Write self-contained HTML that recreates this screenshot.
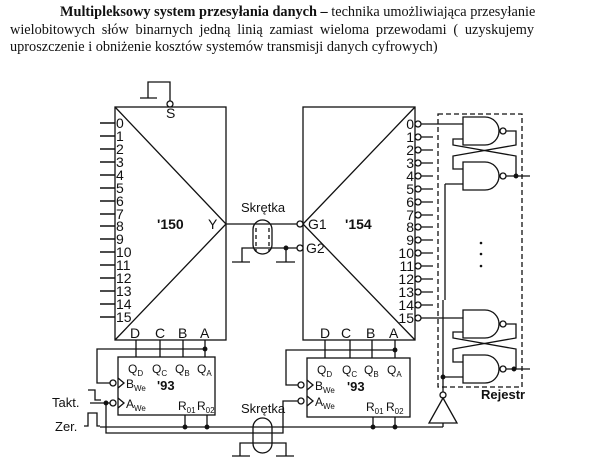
<!DOCTYPE html>
<html><head><meta charset="utf-8"><style>
html,body{margin:0;padding:0;background:#fff;width:608px;height:471px;overflow:hidden}
.t{position:absolute;left:10px;width:524px;font-family:"Liberation Serif",serif;font-size:14.3px;line-height:17.5px;color:#111;top:4px}
.t div{text-align:justify;text-align-last:justify;white-space:nowrap}
.t div.l{text-align-last:left}
svg{position:absolute;left:0;top:0}
svg text{font-family:"Liberation Sans",sans-serif;fill:#111}
</style></head><body>
<div class="t"><div style="padding-left:50px"><b>Multipleksowy system przesyłania danych –</b> technika umożliwiająca przesyłanie</div><div>wielobitowych słów binarnych jedną linią zamiast wieloma przewodami ( uzyskujemy</div><div class="l">uproszczenie i obniżenie kosztów systemów transmisji danych cyfrowych)</div></div>
<svg width="608" height="471" viewBox="0 0 608 471" fill="none" stroke="#111" stroke-width="1.3">
<rect x="115" y="107" width="111" height="233"/>
<path d="M115 107 L226 224 L115 340"/>
<path d="M148 98 V82 H170 V101 M140 98 H157"/>
<circle cx="170" cy="104" r="3" fill="#fff"/>
<g stroke-width="1.4">
<path d="M100 123H115M100 136H115M100 149H115M100 162H115M100 175H115M100 188H115M100 201H115M100 214H115M100 226H115M100 239H115M100 252H115M100 265H115M100 278H115M100 291H115M100 304H115M100 317H115"/>
</g>
<g font-size="14" stroke="none" fill="#111">
<text x="116" y="128">0</text><text x="116" y="141">1</text><text x="116" y="154">2</text><text x="116" y="167">3</text><text x="116" y="180">4</text><text x="116" y="193">5</text><text x="116" y="206">6</text><text x="116" y="219">7</text><text x="116" y="231">8</text><text x="116" y="244">9</text><text x="116" y="257">10</text><text x="116" y="270">11</text><text x="116" y="283">12</text><text x="116" y="296">13</text><text x="116" y="309">14</text><text x="116" y="322">15</text>
<text x="166" y="118">S</text>
<text x="157" y="229" font-weight="bold">'150</text>
<text x="208" y="229">Y</text>
<text x="130" y="338">D</text><text x="155" y="338">C</text><text x="178" y="338">B</text><text x="200" y="338">A</text>
</g>
<rect x="303" y="107" width="112" height="233"/>
<path d="M415 107 L303 224 L415 340"/>
<g font-size="14" stroke="none" fill="#111" text-anchor="end">
<text x="414" y="129">0</text><text x="414" y="142">1</text><text x="414" y="155">2</text><text x="414" y="168">3</text><text x="414" y="181">4</text><text x="414" y="194">5</text><text x="414" y="207">6</text><text x="414" y="220">7</text><text x="414" y="232">8</text><text x="414" y="245">9</text><text x="414" y="258">10</text><text x="414" y="271">11</text><text x="414" y="284">12</text><text x="414" y="297">13</text><text x="414" y="310">14</text><text x="414" y="323">15</text>
</g>
<g>
<path d="M421 124H433M421 137H433M421 150H433M421 163H433M421 176H433M421 189H433M421 202H433M421 215H433M421 227H433M421 240H433M421 253H433M421 266H433M421 279H433M421 292H433M421 305H433M421 318H433"/>
<g fill="#fff"><circle cx="418" cy="124" r="3"/><circle cx="418" cy="137" r="3"/><circle cx="418" cy="150" r="3"/><circle cx="418" cy="163" r="3"/><circle cx="418" cy="176" r="3"/><circle cx="418" cy="189" r="3"/><circle cx="418" cy="202" r="3"/><circle cx="418" cy="215" r="3"/><circle cx="418" cy="227" r="3"/><circle cx="418" cy="240" r="3"/><circle cx="418" cy="253" r="3"/><circle cx="418" cy="266" r="3"/><circle cx="418" cy="279" r="3"/><circle cx="418" cy="292" r="3"/><circle cx="418" cy="305" r="3"/><circle cx="418" cy="318" r="3"/></g>
</g>
<g font-size="14" stroke="none" fill="#111">
<text x="308" y="229">G1</text><text x="306" y="253">G2</text>
<text x="345" y="229" font-weight="bold">'154</text>
<text x="320" y="338">D</text><text x="341" y="338">C</text><text x="366" y="338">B</text><text x="389" y="338">A</text>
<text x="241" y="212" font-size="13">Skrętka</text>
<text x="241" y="413" font-size="13">Skrętka</text>
<text x="52" y="407" font-size="13">Takt.</text>
<text x="55" y="431" font-size="13">Zer.</text>
<text x="481" y="399" font-weight="bold" font-size="13">Rejestr</text>
</g>
<path d="M226 224H297"/>
<circle cx="300" cy="224" r="3" fill="#fff"/>
<circle cx="300" cy="248" r="3" fill="#fff"/>
<path d="M242 262V248H297M286 248V262M232 262H250M276 262H295"/>
<circle cx="286" cy="248" r="1.8" fill="#111"/>
<rect x="253" y="220" width="19" height="34" rx="9.5"/>
<path d="M256 228V252M269 228V252" stroke-dasharray="4 3"/>
<rect x="438" y="114" width="84" height="273" stroke-dasharray="5 3"/>
<path d="M463 117H485A14 14 0 0 1 485 145H463Z"/>
<circle cx="503" cy="131" r="3" fill="#fff"/>
<path d="M463 162H485A14 14 0 0 1 485 190H463Z"/>
<circle cx="503" cy="176" r="3" fill="#fff"/>
<path d="M433 124H463"/>
<path d="M506 131H516V145L453 156V169H463"/>
<path d="M463 139H453V145L516 156V176"/>
<path d="M506 176H530"/><circle cx="516" cy="176" r="1.8" fill="#111"/>
<path d="M463 184H445"/>
<path d="M463 310H485A14 14 0 0 1 485 338H463Z"/>
<circle cx="503" cy="324" r="3" fill="#fff"/>
<path d="M463 355H485A14 14 0 0 1 485 383H463Z"/>
<circle cx="503" cy="369" r="3" fill="#fff"/>
<path d="M433 318H463"/>
<path d="M506 324H516V338L453 349V362H463"/>
<path d="M463 332H453V338L516 349V369"/>
<path d="M506 369H530"/><circle cx="514" cy="369" r="1.8" fill="#111"/>
<path d="M463 377H443"/><circle cx="443" cy="377" r="1.8" fill="#111"/>
<path d="M445 184V300M443 300V392"/>
<g fill="#111" stroke="none"><circle cx="481" cy="243" r="1.3"/><circle cx="481" cy="254" r="1.3"/><circle cx="481" cy="266" r="1.3"/></g>
<circle cx="443" cy="395" r="3" fill="#fff"/>
<path d="M443 398L457 423H429Z"/>
<path d="M443 423V427"/>
<rect x="118" y="357" width="97" height="58"/>
<path d="M136 340V357M160 340V357M183 340V357M205 340V357"/>
<path d="M205 349H97V383H110"/><circle cx="205" cy="349" r="1.8" fill="#111"/>
<circle cx="113" cy="383" r="3" fill="#fff"/><circle cx="113" cy="403" r="3" fill="#fff"/>
<path d="M118 378L124 383L118 388M118 398L124 403L118 408"/>
<path d="M90 403H110M106 403V433H283V401H298"/><circle cx="106" cy="403" r="1.8" fill="#111"/>
<path d="M88 390H95V400H101"/>
<path d="M84 426H88V413H97V426H100"/>
<path d="M100 427H443"/>
<path d="M185 415V427M207 415V427"/><circle cx="185" cy="427" r="1.8" fill="#111"/><circle cx="207" cy="427" r="1.8" fill="#111"/>
<g font-size="12" stroke="none" fill="#111">
<text x="128" y="373">Q<tspan font-size="8" dy="3">D</tspan></text>
<text x="152" y="373">Q<tspan font-size="8" dy="3">C</tspan></text>
<text x="175" y="373">Q<tspan font-size="8" dy="3">B</tspan></text>
<text x="197" y="373">Q<tspan font-size="8" dy="3">A</tspan></text>
<text x="126" y="388">B<tspan font-size="8" dy="3">We</tspan></text>
<text x="126" y="408">A<tspan font-size="8" dy="3">We</tspan></text>
<text x="157" y="390" font-weight="bold" font-size="13">'93</text>
<text x="178" y="410">R<tspan font-size="8" dy="3">01</tspan></text>
<text x="197" y="410">R<tspan font-size="8" dy="3">02</tspan></text>
</g>
<rect x="307" y="358" width="103" height="59"/>
<path d="M325 340V358M350 340V358M372 340V358M395 340V358"/>
<path d="M395 350H286V385H298"/><circle cx="395" cy="350" r="1.8" fill="#111"/>
<circle cx="301" cy="385" r="3" fill="#fff"/><circle cx="301" cy="401" r="3" fill="#fff"/>
<path d="M307 380L313 385L307 390M307 396L313 401L307 406"/>
<path d="M373 417V427M395 417V427"/><circle cx="373" cy="427" r="1.8" fill="#111"/><circle cx="395" cy="427" r="1.8" fill="#111"/>
<g font-size="12" stroke="none" fill="#111">
<text x="317" y="374">Q<tspan font-size="8" dy="3">D</tspan></text>
<text x="342" y="374">Q<tspan font-size="8" dy="3">C</tspan></text>
<text x="364" y="374">Q<tspan font-size="8" dy="3">B</tspan></text>
<text x="387" y="374">Q<tspan font-size="8" dy="3">A</tspan></text>
<text x="315" y="390">B<tspan font-size="8" dy="3">We</tspan></text>
<text x="315" y="406">A<tspan font-size="8" dy="3">We</tspan></text>
<text x="347" y="391" font-weight="bold" font-size="13">'93</text>
<text x="366" y="411">R<tspan font-size="8" dy="3">01</tspan></text>
<text x="386" y="411">R<tspan font-size="8" dy="3">02</tspan></text>
</g>
<rect x="253" y="418" width="19" height="35" rx="9.5"/>
<path d="M240 456V443H286V456M232 456H250M276 456H294"/>
</svg>
</body></html>
